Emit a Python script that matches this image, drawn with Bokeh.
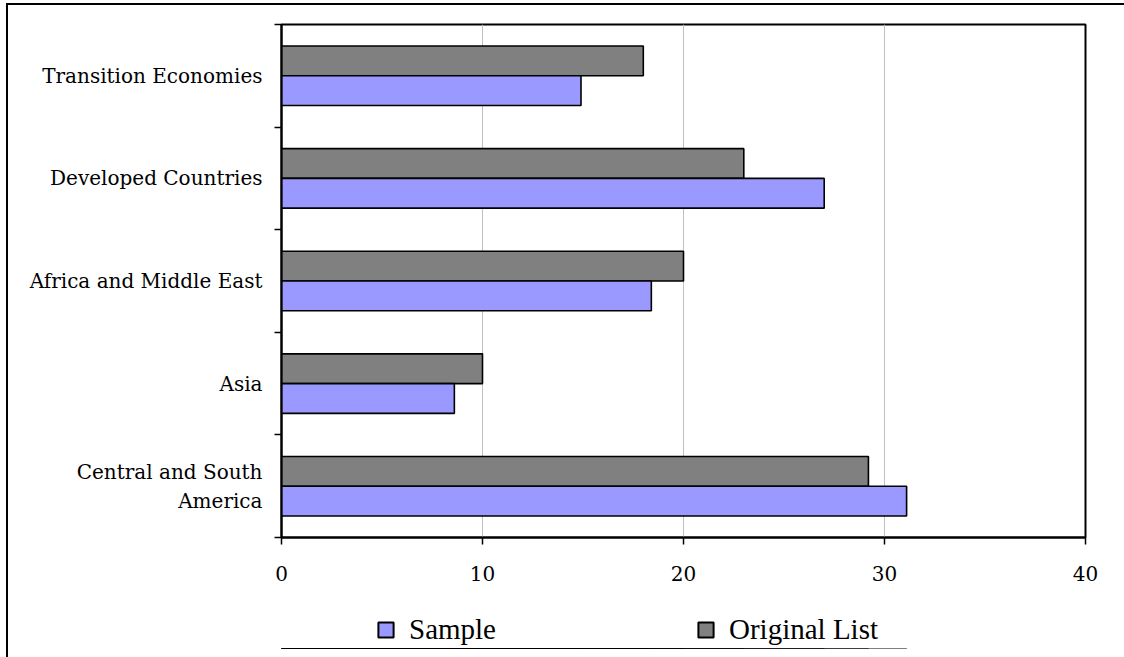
from bokeh.plotting import figure
from bokeh.layouts import column
from bokeh.models import (Range1d, FixedTicker, ColumnDataSource, Legend, LegendItem,
                          GlobalInlineStyleSheet)
from bokeh.transform import dodge
from bokeh.embed import file_html
from bokeh.resources import INLINE

# ---- data ----
categories = ["Central and South America", "Asia", "Africa and Middle East",
              "Developed Countries", "Transition Economies"]
category_labels = ["Central and South\nAmerica", "Asia", "Africa and Middle East",
                   "Developed Countries", "Transition Economies"]
series_names = ["Sample", "Original List"]
series_colors = ["#9999FF", "#808080"]
sample = [31.1, 8.6, 18.4, 27.0, 14.9]
original_list = [29.2, 10.0, 20.0, 23.0, 18.0]
x_ticks = [0, 10, 20, 30, 40]

pos = [i + 0.5 for i in range(len(categories))]
src = ColumnDataSource(dict(y=pos, cat=categories, sample=sample, original=original_list))

p = figure(width=1116, height=597, output_backend="svg", toolbar_location=None,
           x_range=Range1d(0, 40), y_range=Range1d(0, len(categories)),
           min_border_left=281, min_border_top=24, min_border_right=31, min_border_bottom=60)
p.stylesheets = [GlobalInlineStyleSheet(css=(
    "body::before{content:'';position:fixed;left:6px;top:3px;right:0;bottom:0;"
    "border-left:2px solid black;border-top:2px solid black;pointer-events:none;z-index:10;}"))]

p.background_fill_color = "white"
p.border_fill_color = "white"
p.outline_line_color = "black"
p.outline_line_width = 2

bar_h = 0.29
off = 0.145
r_orig = p.hbar(y=dodge("y", off), right="original", left=0, height=bar_h, source=src,
                fill_color=series_colors[1], line_color="black", line_width=1.6)
r_samp = p.hbar(y=dodge("y", -off), right="sample", left=0, height=bar_h, source=src,
                fill_color=series_colors[0], line_color="black", line_width=1.6)

# x axis
xa = p.xaxis[0]
xa.ticker = FixedTicker(ticks=x_ticks, minor_ticks=[])
xa.axis_line_color = "black"
xa.axis_line_width = 2
xa.major_tick_out = 7
xa.major_tick_in = 0
xa.major_tick_line_color = "black"
xa.major_tick_line_width = 1.5
xa.minor_tick_line_color = None
xa.major_label_text_font = "DejaVu Serif"
xa.major_label_text_font_size = "20px"
xa.major_label_text_color = "black"
xa.major_label_standoff = 21

# y axis
ya = p.yaxis[0]
ya.ticker = FixedTicker(ticks=pos, minor_ticks=list(range(len(categories) + 1)))
ya.major_label_overrides = {pv: lab for pv, lab in zip(pos, category_labels)}
ya.axis_line_color = "black"
ya.axis_line_width = 2
ya.major_tick_out = 0
ya.major_tick_in = 0
ya.minor_tick_out = 7
ya.minor_tick_in = 0
ya.minor_tick_line_color = "black"
ya.minor_tick_line_width = 1.5
ya.major_label_text_font = "DejaVu Serif"
ya.major_label_text_font_size = "20px"
ya.major_label_text_color = "black"
ya.major_label_standoff = 12

p.xgrid.grid_line_color = "#C0C0C0"
p.xgrid.grid_line_width = 1
p.ygrid.grid_line_color = None

# legend strip below the chart (its bars lie outside its visible range)
lg = figure(width=1116, height=52, output_backend="svg", toolbar_location=None,
            x_range=Range1d(0, 40), y_range=Range1d(100, 101),
            x_axis_type=None, y_axis_type=None,
            min_border=0, min_border_left=0, min_border_right=0, min_border_top=0,
            min_border_bottom=0)
lg.outline_line_color = None
lg.grid.visible = False
items = []
for name, color, col in zip(series_names, series_colors, ["sample", "original"]):
    r = lg.hbar(y="y", right=col, left=0, height=bar_h, source=src,
                fill_color=color, line_color="black", line_width=2)
    items.append(LegendItem(label=name, renderers=[r]))

legend = Legend(items=items, orientation="horizontal", location=(95, 3),
                glyph_width=19, glyph_height=19, label_height=20,
                label_standoff=14, spacing=200, padding=0, margin=0,
                border_line_color=None, background_fill_alpha=0,
                label_text_font="Liberation Serif", label_text_font_size="29px",
                label_text_color="black")
lg.add_layout(legend, "center")

layout = column(p, lg, spacing=0)
open("out.html", "w").write(file_html(layout, INLINE))
